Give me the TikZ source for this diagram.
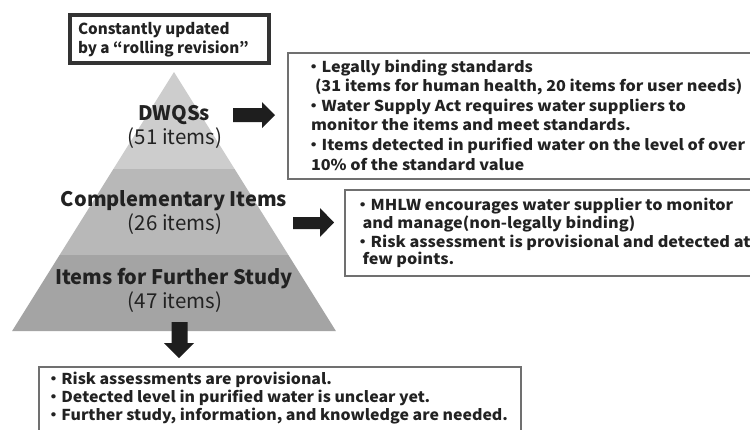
\documentclass[tikz,border=0pt]{standalone}
\usepackage{fontspec}
\newfontfamily\jp{Noto Sans CJK JP}
\newfontfamily\jpw{Noto Sans CJK JP}[FakeStretch=1.08]
\newfontfamily\jpv{Noto Sans CJK JP}[FakeStretch=1.06]
\definecolor{txt}{HTML}{222222}
\definecolor{bandA}{HTML}{CDCDCD}
\definecolor{bandB}{HTML}{B8B8B8}
\definecolor{bandC}{HTML}{A4A4A4}
\definecolor{boxline}{HTML}{707070}
\definecolor{topline}{HTML}{333333}
\definecolor{arrowc}{HTML}{1E1E1E}
\begin{document}
\begin{tikzpicture}[x=1pt,y=-1pt,
  every node/.style={inner sep=0pt, outer sep=0pt, text=txt},
  bodyline/.style={anchor=base west, font=\jpw\bfseries\fontsize{15}{18}\selectfont},
  lowline/.style={anchor=base west, font=\jpv\bfseries\fontsize{15}{18}\selectfont},
  topline/.style={anchor=base west, font=\jp\bfseries\fontsize{15.2}{19}\selectfont},
  tierhead/.style={anchor=base, font=\jp\bfseries\fontsize{20}{24}\selectfont},
  tiercount/.style={anchor=base, font=\jp\fontsize{20.5}{24}\selectfont},
  infobox/.style={draw=boxline, line width=2pt, fill=white},
  blockarrow/.style={fill=arrowc}]
\clip (0,0) rectangle (750,429);
\fill[white] (0,0) rectangle (750,429);

% pyramid bands
\fill[bandA] (174,72) -- (234.6,169) -- (113.4,169) -- cycle;
\fill[bandB] (113.4,169) -- (234.6,169) -- (288.4,255) -- (59.6,255) -- cycle;
\fill[bandC] (59.6,255) -- (288.4,255) -- (335.9,331) -- (12.1,331) -- cycle;

% top box
\draw[line width=4pt, draw=topline] (70,15) rectangle (269,63);
\node[topline] (t1) at (78,34) {Constantly updated};
\node[topline] (t2) at (78,53.5) {by a “rolling revision”};

% tier labels
\node[tierhead] (p1) at (174,120.5) {DWQSs};
\node[tiercount] (p1c) at (175,144) {(51 items)};
\node[tierhead] (p2) at (174,206) {Complementary Items};
\node[tiercount] (p2c) at (175,230) {(26 items)};
\node[tierhead] (p3) at (174,284) {Items for Further Study};
\node[tiercount] (p3c) at (175,308) {(47 items)};

% boxes
\draw[infobox] (288,53) rectangle (770,179);
\draw[infobox] (345,190) rectangle (770,276);
\draw[infobox] (39,367) rectangle (521,445);

% box 1 text
\node[bodyline] (a1) at (305.5,72) {・Legally binding standards};
\node[bodyline] (a2) at (315,91.5) {(31 items for human health, 20 items for user needs)};
\node[bodyline] (a3) at (305.5,111) {・Water Supply Act requires water suppliers to};
\node[bodyline] (a4) at (311,130.5) {monitor the items and meet standards.};
\node[bodyline] (a5) at (305.5,150) {・Items detected in purified water on the level of over};
\node[bodyline] (a6) at (311,170) {10\% of the standard value};

% box 2 text
\node[bodyline] (b1) at (354.5,210) {・MHLW encourages water supplier to monitor};
\node[bodyline] (b2) at (362.5,228) {and manage(non-legally binding)};
\node[bodyline] (b3) at (354.5,247) {・Risk assessment is provisional and detected at};
\node[bodyline] (b4) at (362.5,264) {few points.};

% box 3 text
\node[lowline] (c1) at (45.5,384) {・Risk assessments are provisional.};
\node[lowline] (c2) at (45.5,402) {・Detected level in purified water is unclear yet.};
\node[lowline] (c3) at (45.5,420) {・Further study, information, and knowledge are needed.};

% block arrows
\fill[blockarrow] (233,108) -- (262,108) -- (262,102) -- (275,115) -- (262,128) -- (262,122) -- (233,122) -- cycle;
\fill[blockarrow] (293,217) -- (320,217) -- (320,208) -- (334,222.5) -- (320,237) -- (320,229) -- (293,229) -- cycle;
\fill[blockarrow] (171.5,322) -- (187.5,322) -- (187.5,343) -- (194,343) -- (179,358) -- (164,343) -- (171.5,343) -- cycle;
\end{tikzpicture}
\end{document}
